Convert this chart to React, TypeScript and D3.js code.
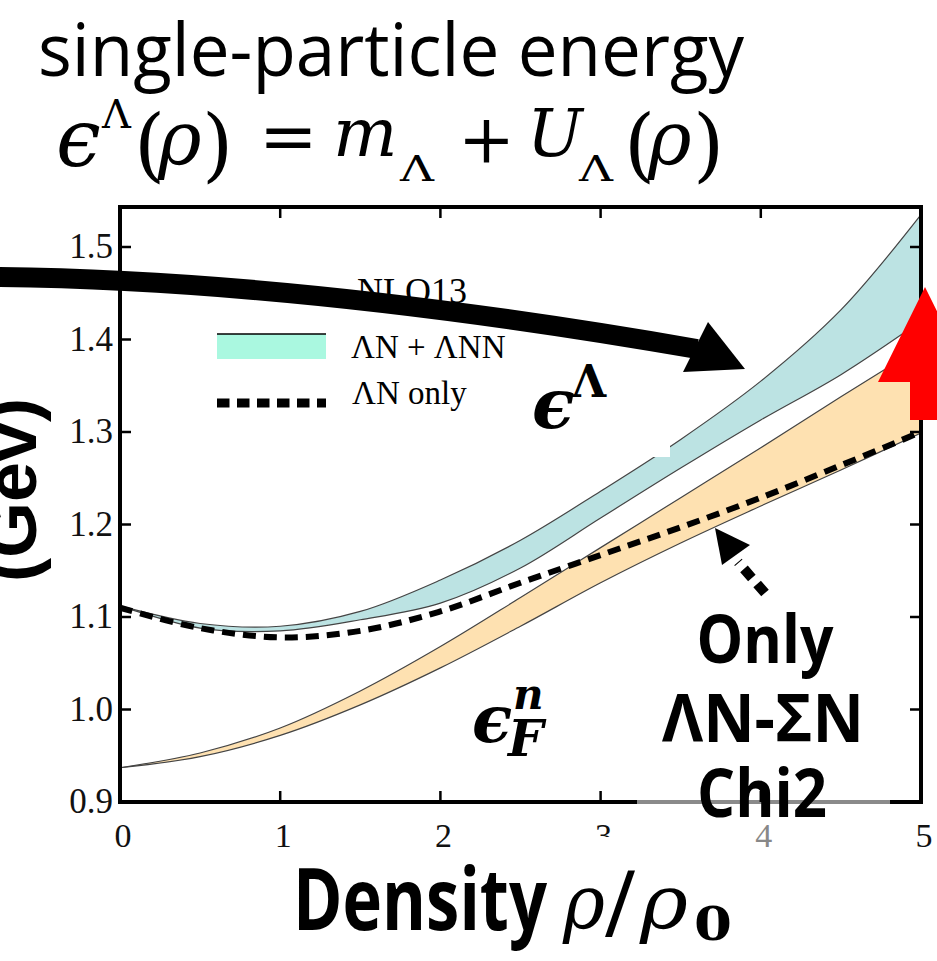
import * as d3 from 'd3';

const density = [0, 0.5, 1, 1.5, 2, 2.5, 3, 3.5, 4, 4.5, 5];
const lamUpper = [1.112, 1.093, 1.09, 1.106, 1.14, 1.183, 1.236, 1.292, 1.355, 1.432, 1.535];
const lamLower = [1.112, 1.088, 1.085, 1.097, 1.115, 1.153, 1.207, 1.261, 1.313, 1.362, 1.42];
const lamOnly = [1.11, 1.088, 1.078, 1.085, 1.106, 1.137, 1.167, 1.197, 1.229, 1.264, 1.3];
const nUpper = [0.937, 0.953, 0.98, 1.02, 1.068, 1.121, 1.175, 1.229, 1.283, 1.338, 1.392];
const nLower = [0.937, 0.949, 0.972, 1.005, 1.045, 1.09, 1.137, 1.18, 1.22, 1.259, 1.299];

const xTicks = [0, 1, 2, 3, 4, 5];
const yTicks = [0.9, 1.0, 1.1, 1.2, 1.3, 1.4, 1.5];

const W = 937;
const H = 961;
const left = 120, right = 921, top = 207, bottom = 802;

const x = d3.scaleLinear().domain([0, 5]).range([left, right]);
const y = d3.scaleLinear().domain([0.9, 1.5]).range([bottom, 247]);

const serif = '"Liberation Serif", "DejaVu Serif", serif';
const math = '"DejaVu Serif", serif';
const sans = '"Open Sans", "Noto Sans", sans-serif';
const curve = d3.curveCatmullRom.alpha(0.5);

function band(lo: number[], hi: number[]) {
  return d3
    .area<number>()
    .x((d) => x(d))
    .y0((_, i) => y(lo[i]))
    .y1((_, i) => y(hi[i]))
    .curve(curve)(density) || '';
}

function line(vals: number[]) {
  return d3
    .line<number>()
    .x((d) => x(d))
    .y((_, i) => y(vals[i]))
    .curve(curve)(density) || '';
}

// one glyph of the formula
function G(props: { x: number; y: number; s: number; it?: boolean; w?: number; c: string }) {
  return (
    <text
      x={props.x}
      y={props.y}
      fontSize={props.s}
      fontStyle={props.it ? 'italic' : 'normal'}
      textLength={props.w}
      lengthAdjust={props.w ? 'spacingAndGlyphs' : undefined}
    >
      {props.c}
    </text>
  );
}

export default function App() {
  const innerTicksX = xTicks.filter((t) => t > 0 && t < 5);
  return (
    <svg width={W} height={H} style={{ position: 'absolute', left: 0, top: 0, background: '#fff' }}>
      {/* title */}
      <text x={38} y={76} fontFamily={sans} fontSize={74} textLength={706} lengthAdjust="spacingAndGlyphs">
        single-particle energy
      </text>
      <g fontFamily={math}>
        <G x={56} y={166} s={80} it c="ϵ" />
        <G x={102} y={128} s={40} c="Λ" />
        <G x={134} y={172} s={80} c="(" />
        <G x={158} y={164} s={74} it c="ρ" />
        <G x={202} y={172} s={80} c=")" />
        <G x={259} y={160} s={70} c="=" />
        <G x={333} y={156} s={68} it c="m" />
        <G x={400} y={181} s={36} w={34} c="Λ" />
        <G x={458} y={162} s={68} c="+" />
        <G x={527} y={156} s={66} it c="U" />
        <G x={579} y={181} s={36} w={34} c="Λ" />
        <G x={624} y={172} s={80} c="(" />
        <G x={648} y={164} s={74} it c="ρ" />
        <G x={693} y={172} s={80} c=")" />
      </g>

      {/* bands */}
      <path d={band(lamLower, lamUpper)} fill="#bce3e3" stroke="none" />
      <path d={line(lamUpper)} fill="none" stroke="#444" strokeWidth={1.2} />
      <path d={line(lamLower)} fill="none" stroke="#444" strokeWidth={1.2} />
      <path d={band(nLower, nUpper)} fill="#fee1b1" stroke="none" />
      <path d={line(nUpper)} fill="none" stroke="#444" strokeWidth={1.2} />
      <path d={line(nLower)} fill="none" stroke="#444" strokeWidth={1.2} />
      <path d={line(lamOnly)} fill="none" stroke="#000" strokeWidth={6} strokeDasharray="13 8" />

      {/* white patch over band */}
      <rect x={600} y={433} width={70} height={24} fill="#fff" />

      {/* frame */}
      <rect x={left} y={top} width={right - left} height={bottom - top} fill="none" stroke="#000" strokeWidth={4} />
      <line x1={637} x2={890} y1={bottom} y2={bottom} stroke="#8a8a8a" strokeWidth={4} />
      {innerTicksX.map((t) => (
        <g key={'xt' + t}>
          <line x1={x(t)} x2={x(t)} y1={bottom} y2={bottom - 11} stroke="#000" strokeWidth={2.5} />
          <line x1={x(t)} x2={x(t)} y1={top} y2={top + 11} stroke="#000" strokeWidth={2.5} />
        </g>
      ))}
      {yTicks.slice(1).map((t) => (
        <g key={'yt' + t}>
          <line x1={left} x2={left + 11} y1={y(t)} y2={y(t)} stroke="#000" strokeWidth={2.5} />
          <line x1={right} x2={right - 11} y1={y(t)} y2={y(t)} stroke="#000" strokeWidth={2.5} />
        </g>
      ))}
      {yTicks.map((t) => (
        <text key={'yl' + t} x={113} y={y(t) + 11} textAnchor="end" fontFamily={serif} fontSize={35} fill="#111">
          {t.toFixed(1)}
        </text>
      ))}
      {xTicks.map((t) => (
        <text
          key={'xl' + t}
          x={x(t) + 3}
          y={847}
          textAnchor="middle"
          fontFamily={serif}
          fontSize={34}
          fill={t === 4 ? '#888' : '#111'}
        >
          {t}
        </text>
      ))}
      <rect x={585} y={837} width={35} height={20} fill="#fff" />

      {/* legend */}
      <text x={357} y={303} fontFamily={serif} fontSize={36}>NLO13</text>
      <rect x={217} y={334} width={109} height={25} fill="#aaf8e0" />
      <line x1={217} x2={326} y1={334} y2={334} stroke="#000" strokeWidth={1.5} />
      <text x={351} y={358} fontFamily={serif} fontSize={33}>ΛN + ΛNN</text>
      <rect x={519} y={325} width={14} height={40} fill="#fff" />
      <line x1={217} x2={326} y1={403} y2={403} stroke="#000" strokeWidth={9} strokeDasharray="12.5 7.5" />
      <text x={352} y={404} fontFamily={serif} fontSize={33}>ΛN only</text>

      {/* big black arrow */}
      <path d="M -5 277 Q 300 280 697 349" fill="none" stroke="#000" strokeWidth={20} />
      <polygon points="708,322 683,372 745,369" fill="#000" />

      {/* red arrow */}
      <polygon points="925,287 878,382 910,382 910,420 940,420 940,382 972,382" fill="#ff0000" />

      {/* small dashed arrow */}
      <line x1={765} x2={738} y1={593} y2={562} stroke="#000" strokeWidth={10} strokeDasharray="12 8" />
      <polygon points="715,528 750,545 722,565" fill="#000" />

      {/* band labels */}
      <g fontFamily={math} fontWeight="bold" fontStyle="italic">
        <text x={532} y={428} fontSize={70}>ϵ</text>
        <text x={572} y={397} fontSize={44} fontStyle="normal">Λ</text>
        <text x={472} y={742} fontSize={66}>ϵ</text>
        <text x={513} y={709} fontSize={42}>n</text>
        <text x={508} y={756} fontSize={50}>F</text>
      </g>

      {/* annotation text */}
      <g fontFamily={sans} fontWeight="bold" fontSize={66} textAnchor="middle">
        <text x={765} y={663} textLength={137} lengthAdjust="spacingAndGlyphs">Only</text>
        <text x={763} y={742} textLength={202} lengthAdjust="spacingAndGlyphs">ΛN-ΣN</text>
        <text x={762} y={817} textLength={130} lengthAdjust="spacingAndGlyphs">Chi2</text>
      </g>

      {/* axis titles */}
      <text
        transform="translate(36,490) rotate(-90)"
        textAnchor="middle"
        fontFamily='"Liberation Sans", Arial, sans-serif'
        fontWeight="bold"
        fontSize={72}
      >
        (Gev)
      </text>
      <text x={293} y={930} fontFamily={sans} fontWeight="bold" fontSize={86} textLength={254} lengthAdjust="spacingAndGlyphs">
        Density
      </text>
      <g fontFamily={math} fontStyle="italic">
        <text x={563} y={928} fontSize={74} textLength={42} lengthAdjust="spacingAndGlyphs">ρ</text>
        <text x={605} y={930} fontSize={80} fontStyle="normal" textLength={30} lengthAdjust="spacingAndGlyphs">/</text>
        <text x={640} y={928} fontSize={74} textLength={48} lengthAdjust="spacingAndGlyphs">ρ</text>
        <text x={694} y={940} fontSize={46} fontStyle="normal" fontWeight="bold" textLength={38} lengthAdjust="spacingAndGlyphs">0</text>
      </g>
    </svg>
  );
}
